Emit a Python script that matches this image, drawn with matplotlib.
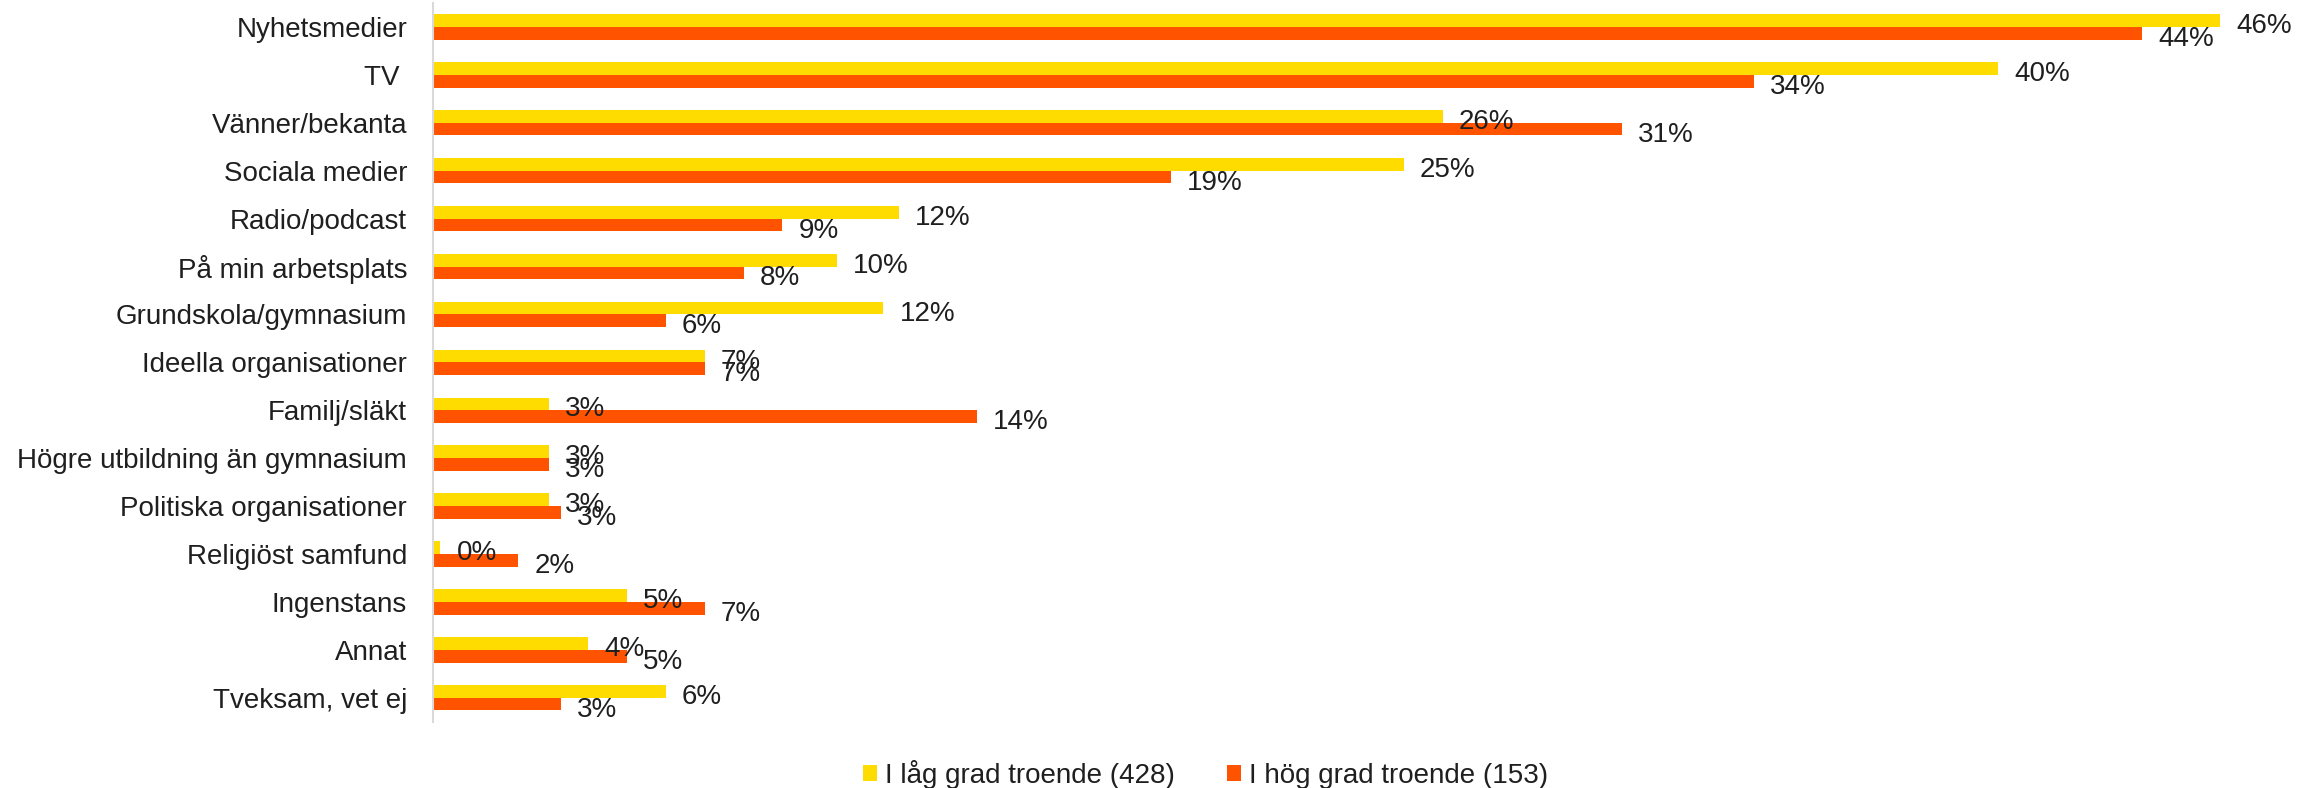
import matplotlib
matplotlib.use("Agg")
import matplotlib.pyplot as plt
import numpy as np

categories = [
    "Nyhetsmedier", "TV ", "Vänner/bekanta", "Sociala medier", "Radio/podcast",
    "På min arbetsplats", "Grundskola/gymnasium", "Ideella organisationer",
    "Familj/släkt", "Högre utbildning än gymnasium", "Politiska organisationer",
    "Religiöst samfund", "Ingenstans", "Annat", "Tveksam, vet ej",
]
low_faith = [46.0, 40.3, 26.0, 25.0, 12.0, 10.4, 11.6, 7.0, 3.0, 3.0, 3.0, 0.2, 5.0, 4.0, 6.0]
high_faith = [44.0, 34.0, 30.6, 19.0, 9.0, 8.0, 6.0, 7.0, 14.0, 3.0, 3.3, 2.2, 7.0, 5.0, 3.3]
series_names = ["I låg grad troende (428)", "I hög grad troende (153)"]
colors = ["#FFDC00", "#FF5300"]

plt.rcParams["font.family"] = ["Liberation Sans", "DejaVu Sans"]
plt.rcParams["font.size"] = 20
text_color = "#1f1f1f"

fig = plt.figure(figsize=(22.98, 7.88), dpi=100)
ax = fig.add_axes([0.1883, 0.0841, 0.8031, 0.9121])

y = np.arange(len(categories))
h = 0.265
bars_low = ax.barh(y - h / 2, low_faith, height=h, color=colors[0], label=series_names[0])
bars_high = ax.barh(y + h / 2, high_faith, height=h, color=colors[1], label=series_names[1])

# data labels just past the end of each bar
for bars, vals in [(bars_low, low_faith), (bars_high, high_faith)]:
    for b, v in zip(bars, vals):
        ax.annotate(f"{v:.0f}%", (b.get_width(), b.get_y() + b.get_height() / 2),
                    xytext=(11.5, -4), textcoords="offset points",
                    va="center", ha="left", fontsize=20, color=text_color,
                    annotation_clip=False)

ax.set_xlim(0, 47.5)
ax.set_ylim(len(categories) - 0.5, -0.5)
ax.set_yticks(y)
ax.set_yticklabels(categories, color=text_color)
ax.tick_params(axis="y", length=0, pad=18.4)
ax.set_xticks([])
for s in ["top", "right", "bottom"]:
    ax.spines[s].set_visible(False)
ax.spines["left"].set_color("#D9D9D9")
ax.spines["left"].set_linewidth(1.5)

leg = fig.legend(loc="center", bbox_to_anchor=(0.5246, 0.0169), ncol=2, frameon=False,
                 handlelength=0.5, handleheight=0.5, handletextpad=0.29,
                 columnspacing=1.86, borderpad=0, fontsize=20)
for t in leg.get_texts():
    t.set_color(text_color)

fig.savefig("out.png", dpi=100)
